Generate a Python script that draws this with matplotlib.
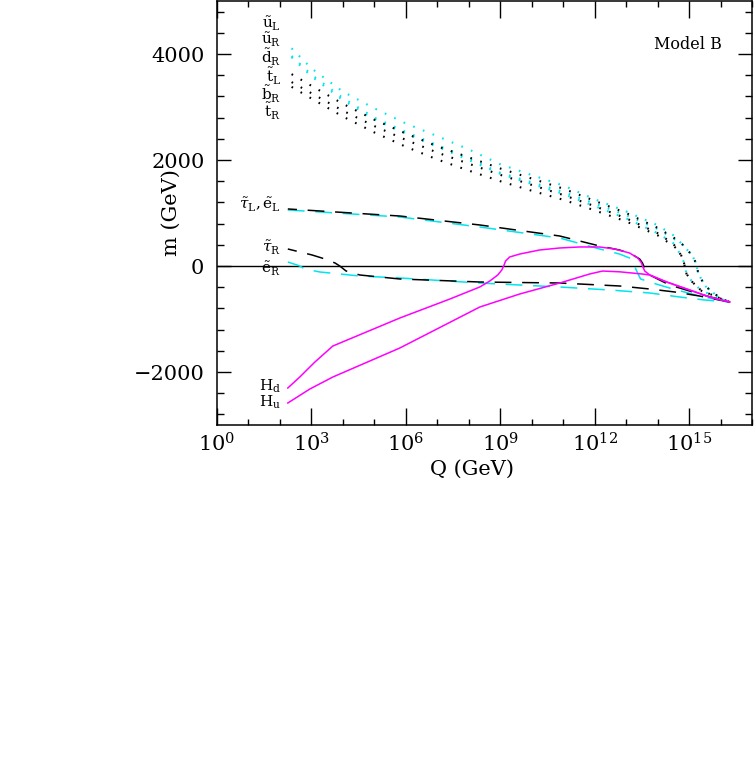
import numpy as np
import matplotlib
matplotlib.use("Agg")
import matplotlib.pyplot as plt
from matplotlib.ticker import FixedLocator, FuncFormatter, MultipleLocator

plt.rcParams['font.family'] = ['DejaVu Serif']
plt.rcParams['mathtext.fontset'] = 'dejavuserif'

# ---------------- data (log10 Q, m in GeV) ----------------
sq_lq = [2.37, 3.0, 4.0, 5.0, 6.0, 7.0, 8.0, 9.0, 10.0, 11.0, 12.0, 13.0, 14.0, 14.5]
# late part for squarks crossing at ~15.24 (group 2) or ~14.86 (group 1)
g2_lq = [14.8, 15.1, 15.2, 15.24, 15.3, 15.5, 15.8, 16.06, 16.3]
g2_m = [400, 200, 80, 0, -150, -370, -520, -630, -680]
g1_lq = [14.6, 14.75, 14.83, 14.86, 14.92, 15.1, 15.4, 15.8, 16.06, 16.3]
g1_m = [330, 200, 80, 0, -150, -300, -470, -560, -630, -680]

uL_m = [4108, 3730, 3290, 2975, 2690, 2450, 2200, 1920, 1717, 1520, 1260, 1030, 770, 580]
uR_m = [3962, 3610, 3170, 2800, 2530, 2280, 2030, 1760, 1580, 1400, 1180, 960, 700, 520]
dR_m = [3940, 3580, 3130, 2770, 2500, 2250, 2000, 1740, 1550, 1360, 1130, 900, 620, 430]
tL_m = [3620, 3400, 3060, 2760, 2500, 2260, 2050, 1840, 1650, 1460, 1230, 1000, 720, 540]
bR_m = [3470, 3260, 2930, 2640, 2380, 2140, 1930, 1720, 1530, 1340, 1130, 900, 620, 420]
tR_m = [3380, 3160, 2820, 2520, 2250, 2010, 1800, 1600, 1420, 1250, 1050, 840, 580, 380]

tauL_lq = [2.25, 5.81, 8.35, 10.89, 12.16, 12.79, 13.17, 13.43, 13.52, 13.56, 13.62, 13.75, 14.0, 14.38, 15.33, 16.29]
tauL_m = [1076, 943, 774, 566, 377, 302, 226, 132, 57, 0, -75, -170, -245, -358, -528, -680]
eL_lq = [2.25, 5.81, 8.35, 10.89, 12.16, 12.79, 13.11, 13.24, 13.27, 13.32, 13.46, 13.84, 14.38, 15.33, 16.29]
eL_m = [1057, 925, 736, 528, 321, 226, 151, 75, 0, -75, -245, -320, -415, -566, -680]
tauR_lq = [2.25, 3.02, 3.33, 3.75, 3.9, 4.1, 4.54, 5.81, 8.35, 10.89, 12.79, 13.75, 14.54, 15.33, 16.29]
tauR_m = [321, 208, 151, 57, 0, -94, -170, -245, -302, -321, -377, -434, -490, -566, -680]
eR_lq = [2.25, 2.54, 2.63, 2.79, 3.27, 4.54, 5.81, 8.35, 10.89, 12.48, 13.75, 14.70, 15.49, 16.29]
eR_m = [75, 19, 0, -57, -113, -189, -226, -321, -396, -453, -509, -585, -641, -680]

Hd_lq = [2.25, 2.63, 3.11, 3.68, 5.81, 7.40, 8.35, 8.67, 8.92, 9.05, 9.11, 9.17, 9.30, 9.62, 10.25,
         10.89, 11.52, 12.16, 12.63, 13.11, 13.37, 13.49, 13.52, 13.59, 13.75, 14.29, 15.02, 15.65, 16.29]
Hd_m = [-2302, -2095, -1812, -1510, -981, -623, -396, -283, -170, -75, 0, 94, 170, 226, 302,
        340, 359, 359, 321, 245, 151, 57, 0, -94, -170, -302, -453, -585, -680]
Hu_lq = [2.25, 2.95, 3.68, 5.81, 8.35, 9.62, 10.89, 11.84, 12.25, 12.8, 13.5, 13.75, 14.29, 15.02, 15.65, 16.29]
Hu_m = [-2585, -2321, -2095, -1547, -774, -528, -321, -151, -95, -110, -150, -170, -302, -453, -585, -680]

# labels: (text, m position)
sq_labels = [r'$\tilde{\rm u}_{\rm L}$', r'$\tilde{\rm u}_{\rm R}$', r'$\tilde{\rm d}_{\rm R}$',
             r'$\tilde{\rm t}_{\rm L}$', r'$\tilde{\rm b}_{\rm R}$', r'$\tilde{\rm t}_{\rm R}$']
sq_label_m = [4575, 4260, 3935, 3575, 3235, 2915]
other_labels = [r'$\tilde{\tau}_{\rm L},\tilde{\rm e}_{\rm L}$', r'$\tilde{\tau}_{\rm R}$',
                r'$\tilde{\rm e}_{\rm R}$', r'$\rm H_d$', r'$\rm H_u$']
other_label_m = [1151, 340, -57, -2264, -2566]

# ---------------- figure ----------------
fig = plt.figure(figsize=(7.54, 7.83), dpi=100)
ax = fig.add_axes([217/754, 1 - 425/783, (752-217)/754, (425-1)/783])

CY = '#00e5ee'
MG = '#ff00ff'
dot = (0, (0.8, 4.2))
dash = (0, (11, 7))

def Q(lq):
    return 10 ** np.asarray(lq, dtype=float)

def sq(mlist, late):
    lq = list(sq_lq) + (g2_lq if late == 2 else g1_lq)
    m = list(mlist) + (g2_m if late == 2 else g1_m)
    return Q(lq), m

ax.axhline(0, color='black', lw=1.0)

for mm, late in [(uL_m, 2), (uR_m, 2), (dR_m, 1)]:
    x, y = sq(mm, late)
    ax.plot(x, y, color=CY, lw=1.5, linestyle=dot)
for mm, late in [(tL_m, 2), (bR_m, 1), (tR_m, 1)]:
    x, y = sq(mm, late)
    ax.plot(x, y, color='black', lw=1.5, linestyle=dot)

ax.plot(Q(eL_lq), eL_m, color=CY, lw=1.1, linestyle=dash)
ax.plot(Q(eR_lq), eR_m, color=CY, lw=1.1, linestyle=dash)
ax.plot(Q(tauL_lq), tauL_m, color='black', lw=1.1, linestyle=(5, (11, 7)))
ax.plot(Q(tauR_lq), tauR_m, color='black', lw=1.1, linestyle=(5, (11, 7)))

ax.plot(Q(Hd_lq), Hd_m, color=MG, lw=1.1)
ax.plot(Q(Hu_lq), Hu_m, color=MG, lw=1.1)

lab_x = 10 ** 2.03
for t, m in zip(sq_labels + other_labels, sq_label_m + other_label_m):
    ax.text(lab_x, m, t, ha='right', va='center', fontsize=11)

ax.text(10 ** 16.03, 4170, 'Model B', ha='right', va='center', fontsize=11.5)

ax.set_xscale('log')
ax.set_xlim(1, 1e17)
ax.set_ylim(-3000, 5000)

ax.xaxis.set_major_locator(FixedLocator(10.0 ** np.arange(0, 16, 3)))
ax.xaxis.set_minor_locator(FixedLocator(10.0 ** np.arange(0, 18, 1)))
ax.xaxis.set_major_formatter(FuncFormatter(lambda v, p: r'$10^{%d}$' % round(np.log10(v))))
ax.xaxis.set_minor_formatter(FuncFormatter(lambda v, p: ''))
ax.yaxis.set_major_locator(FixedLocator([-2000, 0, 2000, 4000]))
ax.yaxis.set_minor_locator(MultipleLocator(400))
ax.yaxis.set_major_formatter(FuncFormatter(lambda v, p: '%d' % v if v >= 0 else '\u22122000'))

ax.tick_params(axis='both', which='both', direction='in', top=True, right=True, labelsize=15, width=1.0)
ax.tick_params(axis='x', which='major', length=12, pad=5)
ax.tick_params(axis='x', which='minor', length=4.5)
ax.tick_params(axis='y', which='major', length=10, pad=9)
ax.tick_params(axis='y', which='minor', length=5)
for s in ax.spines.values():
    s.set_linewidth(1.1)

ax.set_xlabel('Q (GeV)', fontsize=15)
ax.set_ylabel('m (GeV)', fontsize=15)
ax.xaxis.set_label_coords((472 - 217) / 535, (425 - 460) / 424)
ax.yaxis.set_label_coords((181 - 217) / 535, 0.5)

fig.savefig('out.png', dpi=100)
